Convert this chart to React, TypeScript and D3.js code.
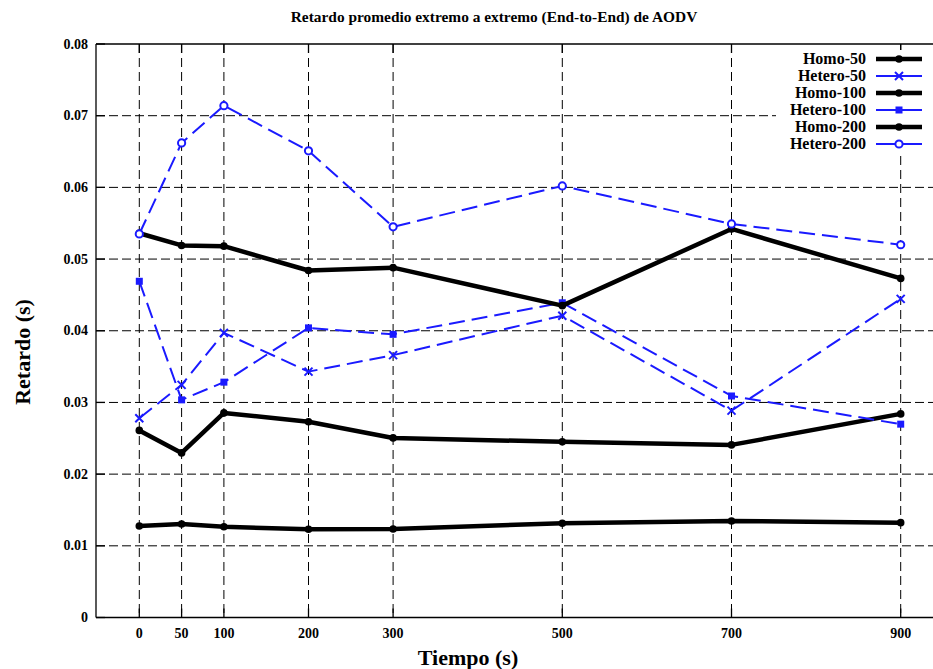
import React from "react";
import * as d3 from "d3";

const times = [0, 50, 100, 200, 300, 500, 700, 900];
const homo50 = [0.01277, 0.01305, 0.01266, 0.01231, 0.01235, 0.01315, 0.01347, 0.01323];
const hetero50 = [0.0278, 0.03245, 0.0397, 0.0343, 0.0366, 0.0421, 0.02886, 0.04445];
const homo100 = [0.0261, 0.02296, 0.02854, 0.0273, 0.02505, 0.0245, 0.02408, 0.0284];
const hetero100 = [0.0469, 0.03036, 0.03283, 0.0404, 0.0395, 0.0439, 0.0309, 0.02697];
const homo200 = [0.0536, 0.0519, 0.0518, 0.0484, 0.0488, 0.0435, 0.0542, 0.0473];
const hetero200 = [0.0535, 0.0662, 0.0714, 0.0651, 0.0545, 0.0602, 0.0549, 0.052];
const yTicks = [0, 0.01, 0.02, 0.03, 0.04, 0.05, 0.06, 0.07, 0.08];
const yTickLabels = ["0", "0.01", "0.02", "0.03", "0.04", "0.05", "0.06", "0.07", "0.08"];

type Series = { name: string; values: number[]; kind: "homo" | "hetero"; marker: string };
const series: Series[] = [
  { name: "Homo-50", values: homo50, kind: "homo", marker: "dot" },
  { name: "Hetero-50", values: hetero50, kind: "hetero", marker: "x" },
  { name: "Homo-100", values: homo100, kind: "homo", marker: "dot" },
  { name: "Hetero-100", values: hetero100, kind: "hetero", marker: "square" },
  { name: "Homo-200", values: homo200, kind: "homo", marker: "dot" },
  { name: "Hetero-200", values: hetero200, kind: "hetero", marker: "circle" },
];

const W = 933, H = 669;
const left = 96, top = 44, bottom = 617.5;
const txt = { fontFamily: "Liberation Serif, Times New Roman, Times, serif", fontWeight: 700 } as React.CSSProperties;
const BLUE = "#1a1aff";

function Marker({ kind, x, y }: { kind: string; x: number; y: number }) {
  if (kind === "dot") return <circle cx={x} cy={y} r={3.8} fill="#000" />;
  if (kind === "x")
    return (
      <path d={`M${x - 4},${y - 4}L${x + 4},${y + 4}M${x - 4},${y + 4}L${x + 4},${y - 4}`} stroke={BLUE} strokeWidth={2} />
    );
  if (kind === "square") return <rect x={x - 3.5} y={y - 3.5} width={7} height={7} fill={BLUE} />;
  return <circle cx={x} cy={y} r={3.6} fill="#fff" stroke={BLUE} strokeWidth={2} />;
}

export default function App() {
  const x = d3.scaleLinear().domain([-50, 900]).range([97, 900.7]);
  const y = d3.scaleLinear().domain([0, 0.08]).range([bottom, top]);
  const line = (vals: number[]) =>
    d3.line<number>().x((_, i) => x(times[i])).y((v) => y(v))(vals) || "";

  const legendY0 = 59, legendDy = 17;

  return (
    <svg width={W} height={H} style={{ position: "absolute", left: 0, top: 0 }}>
      <rect width={W} height={H} fill="#fff" />
      <text x={494} y={22} textAnchor="middle" style={{ ...txt, fontSize: 15.4 }}>
        Retardo promedio extremo a extremo (End-to-End) de AODV
      </text>
      {yTicks.slice(1, -1).map((t) => (
        <line key={"gy" + t} x1={left} x2={W} y1={y(t)} y2={y(t)} stroke="#000" strokeWidth={1} strokeDasharray="9,4" />
      ))}
      {times.map((t) => (
        <line key={"gx" + t} x1={x(t)} x2={x(t)} y1={top} y2={bottom} stroke="#000" strokeWidth={1} strokeDasharray="9,5" />
      ))}
      <line x1={left} x2={W} y1={top} y2={top} stroke="#000" strokeWidth={1.3} />
      <line x1={left} x2={W} y1={bottom} y2={bottom} stroke="#000" strokeWidth={1.3} />
      <line x1={left} x2={left} y1={top} y2={bottom} stroke="#000" strokeWidth={1.3} />
      {yTicks.map((t, i) => (
        <g key={"ty" + t}>
          <line x1={left} x2={left + 9} y1={y(t)} y2={y(t)} stroke="#000" strokeWidth={1.3} />
          <text x={left - 8} y={y(t) + 4.5} textAnchor="end" style={{ ...txt, fontSize: 14 }}>
            {yTickLabels[i]}
          </text>
        </g>
      ))}
      {times.map((t) => (
        <g key={"tx" + t}>
          <line x1={x(t)} x2={x(t)} y1={bottom} y2={bottom - 9} stroke="#000" strokeWidth={1.3} />
          <line x1={x(t)} x2={x(t)} y1={top} y2={top + 9} stroke="#000" strokeWidth={1.3} />
          <text x={x(t)} y={638} textAnchor="middle" style={{ ...txt, fontSize: 14 }}>
            {t}
          </text>
        </g>
      ))}
      <text x={468} y={665} textAnchor="middle" style={{ ...txt, fontSize: 22 }}>
        Tiempo (s)
      </text>
      <text transform={`translate(30,${352}) rotate(-90)`} textAnchor="middle" style={{ ...txt, fontSize: 22 }}>
        Retardo (s)
      </text>
      {series.map((s) => (
        <g key={s.name}>
          <path
            d={line(s.values)}
            fill="none"
            stroke={s.kind === "homo" ? "#000" : BLUE}
            strokeWidth={s.kind === "homo" ? 4.5 : 2}
            strokeDasharray={s.kind === "homo" ? undefined : "16,7"}
            strokeLinejoin="round"
          />
          {s.values.map((v, i) => (
            <Marker key={i} kind={s.marker} x={x(times[i])} y={y(v)} />
          ))}
        </g>
      ))}
      <rect x={776} y={50} width={W - 776} height={102} fill="#fff" />
      {series.map((s, i) => {
        const ly = legendY0 + i * legendDy;
        return (
          <g key={"lg" + s.name}>
            <text x={866} y={ly + 5} textAnchor="end" style={{ ...txt, fontSize: 16 }}>
              {s.name}
            </text>
            <line
              x1={876}
              x2={922}
              y1={ly}
              y2={ly}
              stroke={s.kind === "homo" ? "#000" : BLUE}
              strokeWidth={s.kind === "homo" ? 4.5 : 2}
            />
            <Marker kind={s.marker} x={899} y={ly} />
          </g>
        );
      })}
    </svg>
  );
}
